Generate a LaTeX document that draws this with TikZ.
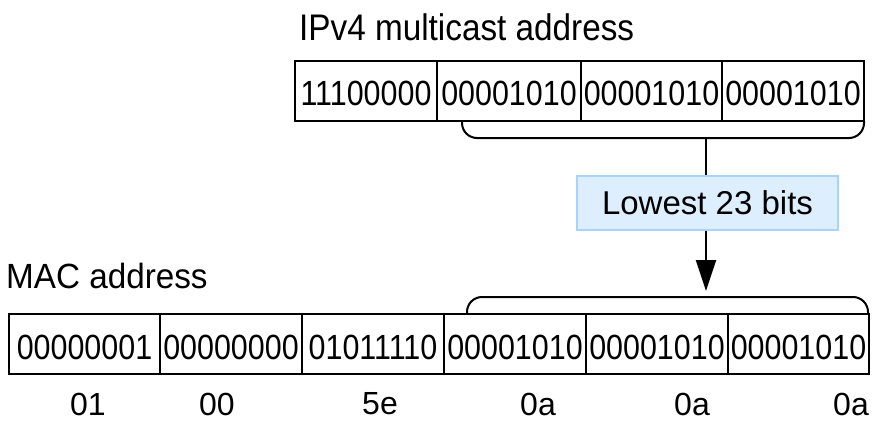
\documentclass[tikz,border=0pt]{standalone}
\usepackage{fontspec}
\usepackage{graphicx}
\setmainfont{Liberation Sans}
\usetikzlibrary{arrows.meta}
\definecolor{lblfill}{RGB}{221,238,255}
\definecolor{lblline}{RGB}{170,210,250}
\newcommand\ftxt[3]{\fontsize{#1}{#1}\selectfont\scalebox{#2}[1]{#3}}
\newcommand\bits[1]{\scalebox{0.87}[1]{#1}}
\begin{document}
\begin{tikzpicture}[x=1pt,y=-1pt,
  cell/.style={draw=black,line width=2pt,rectangle,minimum height=60pt,inner sep=0pt,
    text height=30pt,text depth=0pt,font=\fontsize{35}{35}\selectfont},
  lbl/.style={inner sep=0pt,font=\fontsize{32}{32}\selectfont},
  brace/.style={draw=black,line width=2pt,rounded corners=15pt},
  conn/.style={draw=black,line width=2pt}]
\useasboundingbox (0,0) rectangle (878,428);
% titles
\node[anchor=west,inner sep=0pt] (ttl) at (299,27) {\ftxt{37}{0.9}{IPv4 multicast address}};
\node[anchor=west,inner sep=0pt] (mac) at (6,276) {\ftxt{35}{0.95}{MAC address}};
% IPv4 cells
\node[cell,minimum width=142pt] (i1) at (366,91) {\bits{11100000}};
\node[cell,minimum width=144pt] (i2) at (509,91) {\bits{00001010}};
\node[cell,minimum width=141pt] (i3) at (651.5,91) {\bits{00001010}};
\node[cell,minimum width=142pt] (i4) at (793,91) {\bits{00001010}};
% MAC cells
\node[cell,minimum width=151pt] (m1) at (84.5,344) {\bits{00000001}};
\node[cell,minimum width=142pt] (m2) at (231,344) {\bits{00000000}};
\node[cell,minimum width=142pt] (m3) at (373,344) {\bits{01011110}};
\node[cell,minimum width=142pt] (m4) at (515,344) {\bits{00001010}};
\node[cell,minimum width=142pt] (m5) at (657,344) {\bits{00001010}};
\node[cell,minimum width=141pt] (m6) at (798.5,344) {\bits{00001010}};
% hex labels
\node[lbl] (h1) at (88,404) {01};
\node[lbl] (h2) at (217,404) {00};
\node[lbl] (h3) at (380,404) {5e};
\node[lbl] (h4) at (538,404) {0a};
\node[lbl] (h5) at (692,404) {0a};
\node[lbl] (h6) at (851,404) {0a};
% braces
\path[brace] (462,121) -- (462,138) -- (864,138) -- (864,121);
\path[brace] (467,314) -- (467,297) -- (868,297) -- (868,314);
\coordinate (bsrc) at (706,138);
\coordinate (btip) at (706,291);
% label
\node[draw=lblline,fill=lblfill,line width=1.5pt,minimum width=261pt,minimum height=54pt,inner sep=0pt,
  font=\fontsize{33}{33}\selectfont] (low) at (707.5,203) {Lowest 23 bits};
\path[conn] (bsrc) -- (bsrc |- low.north);
\path[conn,-{Triangle[length=31pt,width=20pt]}] (btip |- low.south) -- (btip);
\end{tikzpicture}
\end{document}
